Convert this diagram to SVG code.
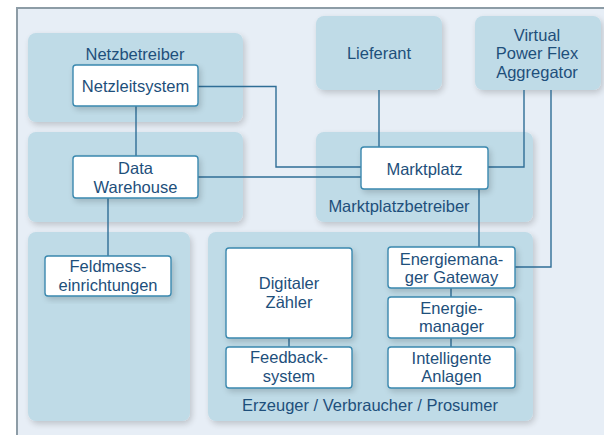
<svg xmlns="http://www.w3.org/2000/svg" width="604" height="435" viewBox="0 0 604 435">
<defs>
<filter id="sh" x="-10%" y="-10%" width="130%" height="130%">
<feGaussianBlur in="SourceAlpha" stdDeviation="3"/>
<feOffset dx="2" dy="3" result="b"/>
<feComponentTransfer><feFuncA type="linear" slope="0.18"/></feComponentTransfer>
<feMerge><feMergeNode/><feMergeNode in="SourceGraphic"/></feMerge>
</filter>
<style>
.panel{fill:#bfdbe7;filter:url(#sh)}
.node{fill:#ffffff;stroke:#3a88ae;stroke-width:1.4;filter:url(#sh)}
.t{font-family:"Liberation Sans",Arial,sans-serif;font-size:16.5px;fill:#1e4f7b;text-anchor:middle}
.c{fill:none;stroke:#2f6e96;stroke-width:1.4}
</style>
</defs>
<rect x="0" y="0" width="604" height="435" fill="#ffffff"/>
<rect x="16" y="7" width="590" height="430" fill="#e7eef6"/>
<path d="M17 436 V8 H604" fill="none" stroke="#8d9ca6" stroke-width="2"/>

<g id="panels">
<rect class="panel" x="28" y="33" width="215" height="89" rx="8"/>
<rect class="panel" x="28" y="132" width="215" height="90" rx="8"/>
<rect class="panel" x="28" y="232" width="162" height="189" rx="8"/>
<rect class="panel" x="208" y="232" width="325" height="189" rx="8"/>
<rect class="panel" x="316" y="16" width="126" height="74" rx="8"/>
<rect class="panel" x="475" y="16" width="126" height="74" rx="8"/>
<rect class="panel" x="316" y="132" width="217" height="90" rx="8"/>
</g>

<g id="connectors">
<path class="c" d="M198 86.5 H276 V167 H361"/>
<path class="c" d="M198 177 H361"/>
<path class="c" d="M136 106 V156"/>
<path class="c" d="M108 198 V256"/>
<path class="c" d="M379 90 V147"/>
<path class="c" d="M524 90 V167 H488"/>
<path class="c" d="M551 90 V267 H515"/>
<path class="c" d="M479 189 V247"/>
<path class="c" d="M451 288 V297"/>
<path class="c" d="M451 338 V347"/>
<path class="c" d="M289 338 V347"/>
</g>

<g id="netzbetreiber"><text class="t" x="135" y="60">Netzbetreiber</text></g>
<g id="lieferant"><text class="t" x="379" y="59">Lieferant</text></g>
<g id="vpfa"><text class="t" x="537" y="40.5">Virtual</text><text class="t" x="537" y="59">Power Flex</text><text class="t" x="537" y="77.5">Aggregator</text></g>
<g id="marktplatzbetreiber"><text class="t" x="399" y="212">Marktplatzbetreiber</text></g>
<g id="erzeuger"><text class="t" x="370" y="411">Erzeuger / Verbraucher / Prosumer</text></g>

<g id="netzleitsystem"><rect class="node" x="73" y="65" width="125" height="41" rx="3"/><text class="t" x="135.5" y="92">Netzleitsystem</text></g>
<g id="datawarehouse"><rect class="node" x="73" y="156" width="125" height="42" rx="3"/><text class="t" x="135.5" y="174">Data</text><text class="t" x="135.5" y="193">Warehouse</text></g>
<g id="feldmess"><rect class="node" x="45" y="256" width="126" height="40" rx="3"/><text class="t" x="108" y="272">Feldmess-</text><text class="t" x="108" y="291">einrichtungen</text></g>
<g id="marktplatz"><rect class="node" x="361" y="147" width="127" height="42" rx="3"/><text class="t" x="424.5" y="175">Marktplatz</text></g>
<g id="zaehler"><rect class="node" x="226" y="248" width="126" height="90" rx="3"/><text class="t" x="289" y="289">Digitaler</text><text class="t" x="289" y="308">Zähler</text></g>
<g id="feedback"><rect class="node" x="226" y="347" width="126" height="41" rx="3"/><text class="t" x="289" y="363">Feedback-</text><text class="t" x="289" y="382">system</text></g>
<g id="gateway"><rect class="node" x="388" y="247" width="127" height="41" rx="3"/><text class="t" x="451.5" y="264.5">Energiemana-</text><text class="t" x="451.5" y="283">ger Gateway</text></g>
<g id="energiemanager"><rect class="node" x="388" y="297" width="127" height="41" rx="3"/><text class="t" x="451.5" y="313.5">Energie-</text><text class="t" x="451.5" y="332">manager</text></g>
<g id="anlagen"><rect class="node" x="388" y="347" width="127" height="41" rx="3"/><text class="t" x="451.5" y="363.5">Intelligente</text><text class="t" x="451.5" y="382">Anlagen</text></g>
</svg>
